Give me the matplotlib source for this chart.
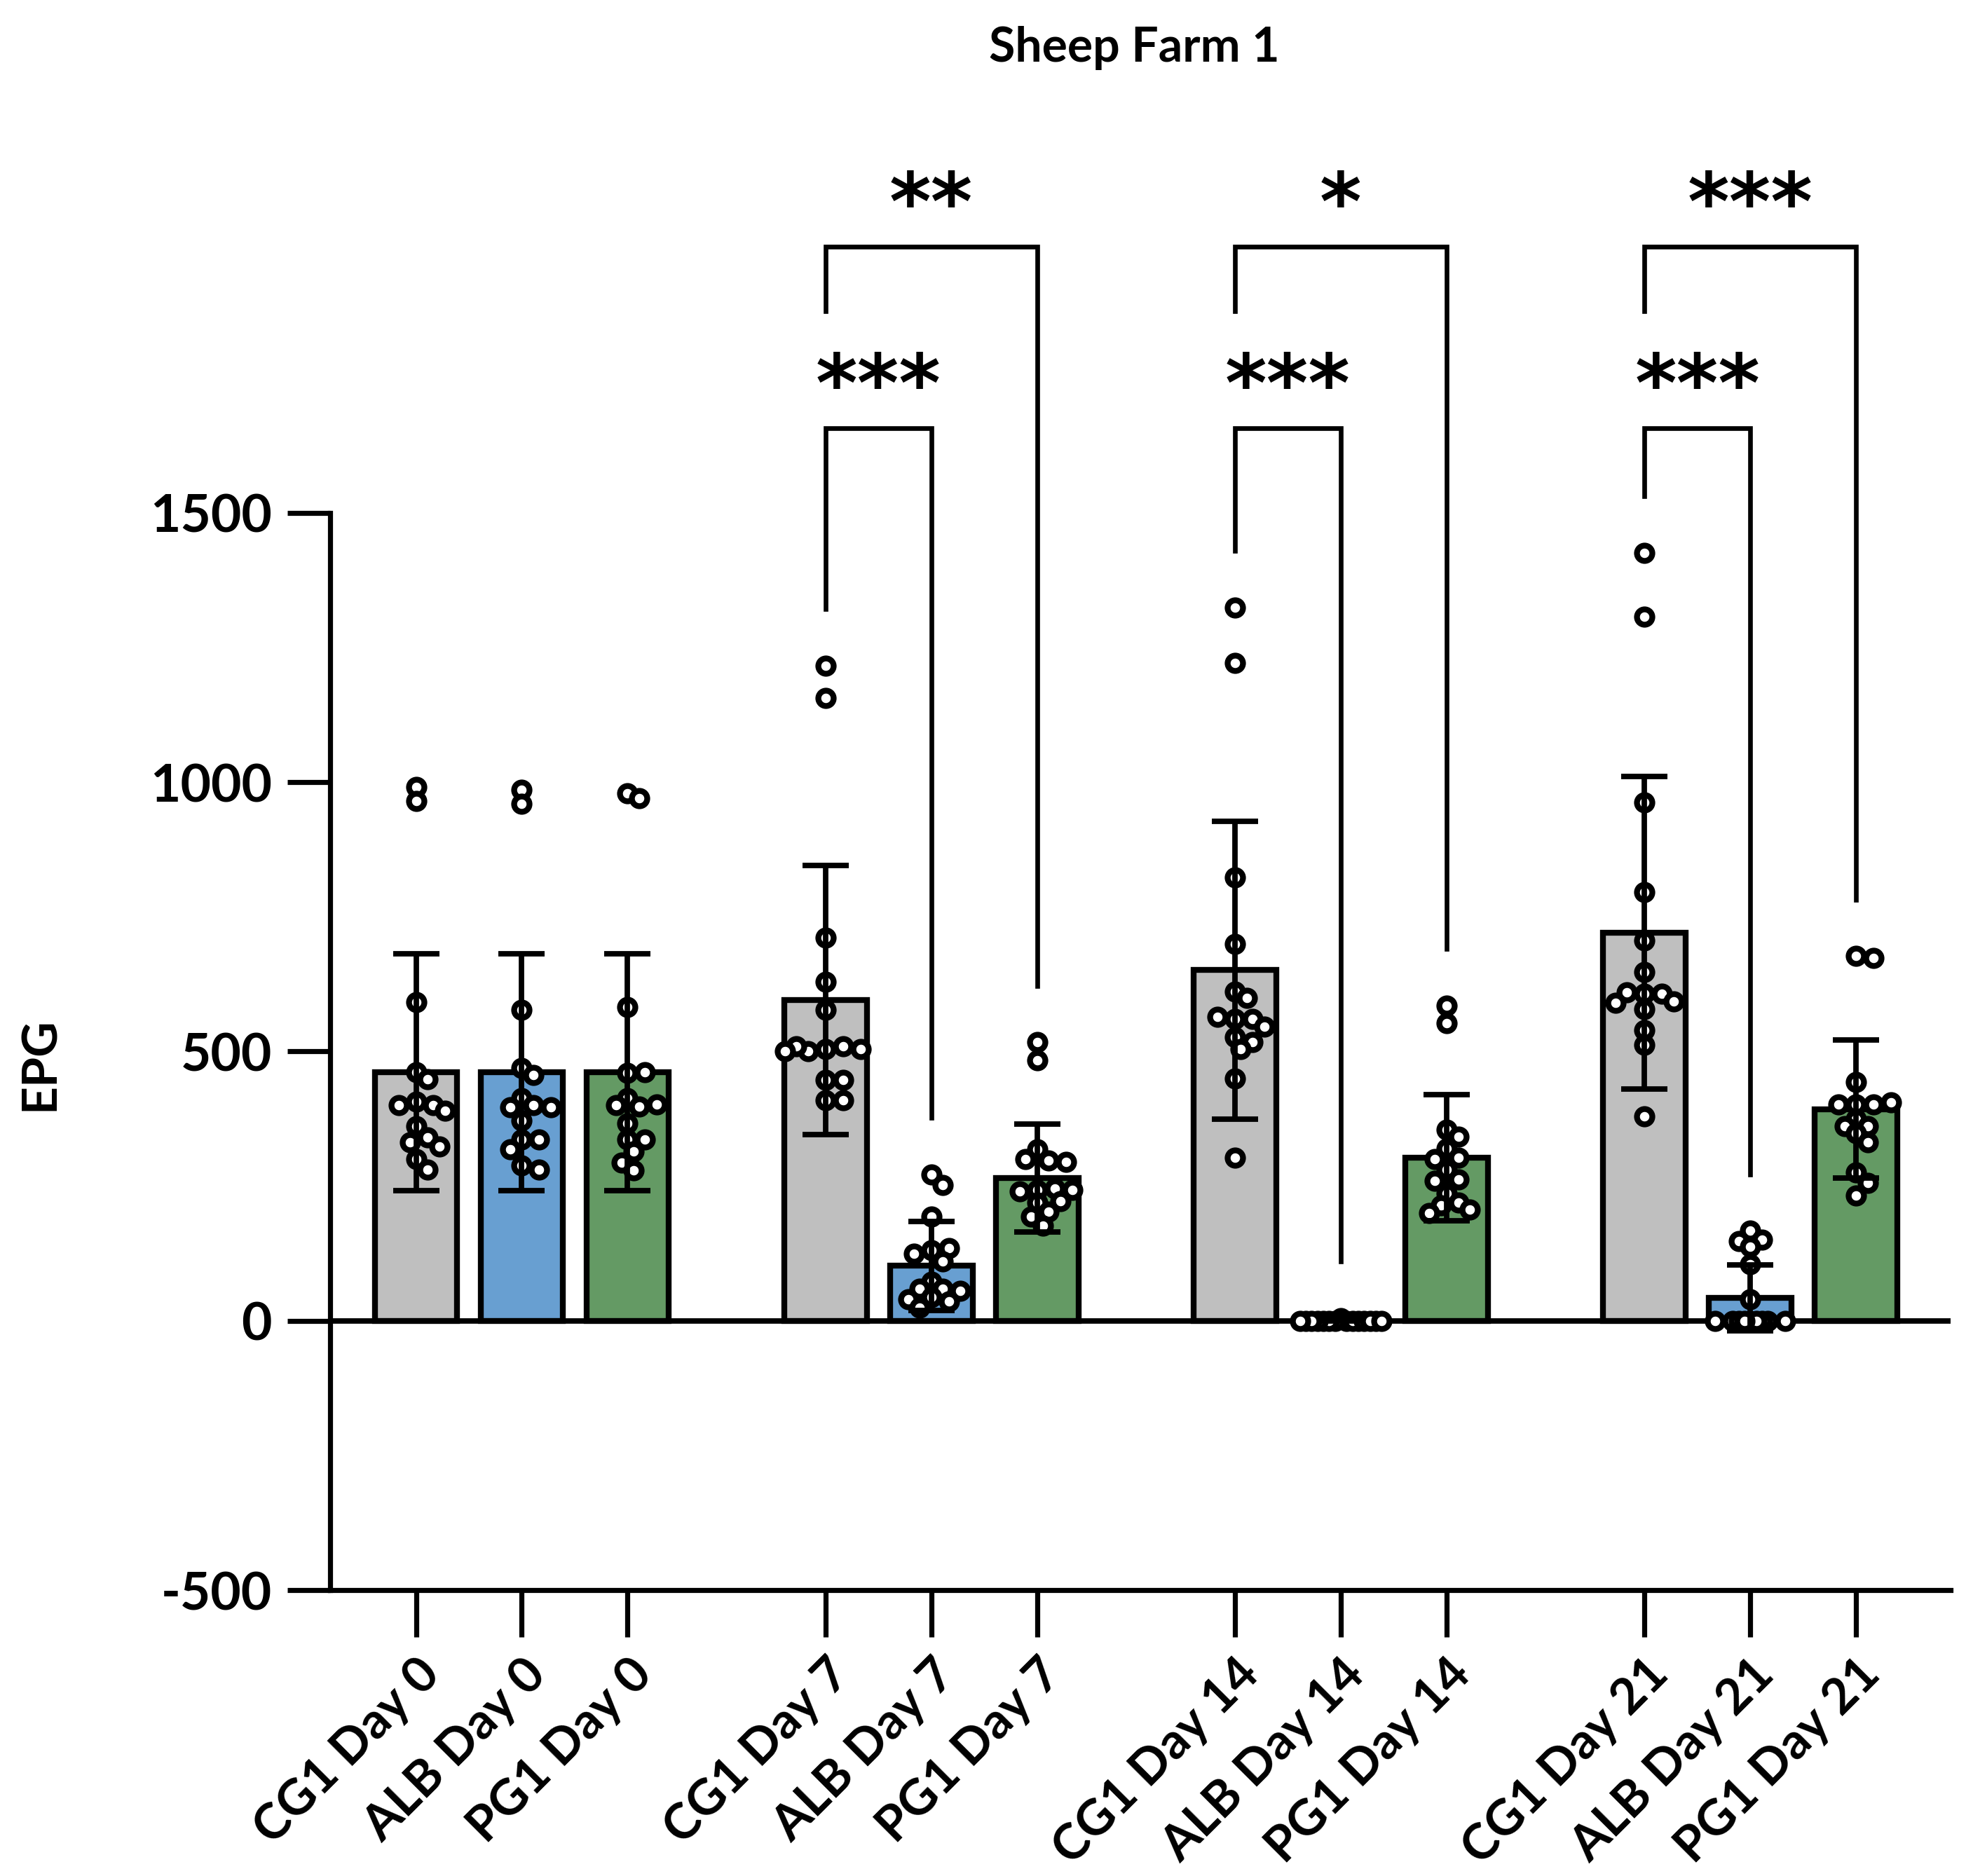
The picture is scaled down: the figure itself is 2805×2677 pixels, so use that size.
import numpy as np
import matplotlib.pyplot as plt
from matplotlib.transforms import ScaledTranslation

plt.rcParams['font.family'] = ['Lato', 'DejaVu Sans']
plt.rcParams['axes.unicode_minus'] = False

# groups, in plotting order
tick_labels = ['CG1 Day 0', 'ALB Day 0', 'PG1 Day 0',
               'CG1 Day 7', 'ALB Day 7', 'PG1 Day 7',
               'CG1 Day 14', 'ALB Day 14', 'PG1 Day 14',
               'CG1 Day 21', 'ALB Day 21', 'PG1 Day 21']
bar_colors = ['#bfbfbf', '#689fd1', '#649a64']

# bar height (mean) and SD
means = [462, 462, 462, 596, 102, 265, 651, 3, 303, 720, 43, 393]
sds = [220, 220, 220, 250, 83, 100, 276, 3, 117, 290, 61, 128]

# individual animals (EPG)
cg1_d0 = [991, 965, 592, 462, 449, 407, 401, 401, 390, 361, 340, 332, 324, 300, 281]
alb_d0 = [986, 960, 577, 470, 457, 414, 401, 396, 396, 372, 337, 337, 319, 289, 281]
pg1_d0 = [980, 970, 582, 460, 462, 414, 398, 400, 402, 367, 337, 337, 314, 294, 279]
cg1_d7 = [1216, 1157, 712, 629, 577, 505, 510, 500, 505, 510, 500, 447, 447, 409, 409]
alb_d7 = [272, 252, 193, 131, 135, 125, 110, 73, 60, 60, 55, 44, 40, 36, 25]
pg1_d7 = [517, 484, 318, 297, 300, 295, 243, 245, 240, 243, 219, 222, 202, 194, 177]
cg1_d14 = [1324, 1221, 823, 700, 611, 600, 560, 560, 565, 546, 527, 518, 505, 450, 303]
alb_d14 = [5, 0, 0, 0, 0, 0, 0, 0, 0, 0, 0, 0, 0, 0, 0]
pg1_d14 = [585, 553, 355, 342, 320, 303, 300, 281, 263, 260, 237, 219, 215, 206, 200]
cg1_d21 = [1426, 1307, 962, 796, 706, 647, 607, 607, 610, 593, 590, 579, 540, 512, 379]
alb_d21 = [167, 150, 148, 138, 105, 40, 0, 0, 0, 0, 0, 0, 0, 0, 0]
pg1_d21 = [677, 673, 443, 402, 402, 402, 405, 375, 361, 361, 348, 332, 275, 256, 233]

points = [cg1_d0, alb_d0, pg1_d0, cg1_d7, alb_d7, pg1_d7,
          cg1_d14, alb_d14, pg1_d14, cg1_d21, alb_d21, pg1_d21]

# (left group, right group, stars)
comparisons = [(3, 4, '***'), (3, 5, '**'),
               (6, 7, '***'), (6, 8, '*'),
               (9, 10, '***'), (9, 11, '***')]

GROUP_STEP = 3.87
x = [g * GROUP_STEP + i for g in range(4) for i in range(3)]


def swarm(vals, step=0.055, dx_min=0.12, dy_min=24, max_off=0.4):
    # simple beeswarm: nearest free slot, else least crowded slot
    cands = [0.0]
    k = 1
    while k * step <= max_off:
        cands += [k * step, -k * step]
        k += 1
    placed = []
    offs = []
    for v in vals:
        best, best_d = 0.0, -1
        for c in cands:
            if placed:
                d = min(((c - px) / dx_min) ** 2 + ((v - pv) / dy_min) ** 2 for px, pv in placed)
            else:
                d = 99
            if d >= 1:
                best = c
                break
            if d > best_d:
                best, best_d = c, d
        placed.append((best, v))
        offs.append(best)
    return np.array(offs)


fig = plt.figure(figsize=(14.025, 13.385), dpi=200)
ax = fig.add_axes([0.168, 0.1524, 0.824, 0.5742])

ax.bar(x, means, width=0.78, color=bar_colors * 4, edgecolor='black',
       linewidth=3.0, zorder=2)
ax.axhline(0, color='black', lw=2.8, zorder=3)

for xi, vals in zip(x, points):
    offs = swarm(vals)
    ax.scatter(xi + offs, vals, s=62, facecolor='white', edgecolor='black',
               linewidths=3.0, zorder=4, clip_on=False)

ax.errorbar(x, means, yerr=sds, fmt='none', ecolor='black', elinewidth=2.8,
            capsize=12, capthick=2.8, zorder=5)

# significance brackets
inner_top, outer_top = 1657, 1994
gap = 105
for a, b, stars in comparisons:
    x1, x2 = x[a], x[b]
    if b - a == 1:
        top = inner_top
        y1 = max(points[a]) + gap
        ty = 1730
    else:
        top = outer_top
        y1 = outer_top - 120
        ty = 2067
    y2 = max(points[b]) + gap
    ax.plot([x1, x1, x2, x2], [y1, top, top, y2], color='black', lw=2.4,
            clip_on=False, zorder=6, solid_joinstyle='miter')
    ax.text((x1 + x2) / 2, ty, stars, ha='center', va='center', fontsize=41,
            fontweight='bold', family='DejaVu Sans', clip_on=False)

ax.set_xlim(-0.81, 14.5)
ax.set_ylim(-500, 1500)
ax.set_yticks([-500, 0, 500, 1000, 1500])
ax.set_yticklabels(['-500', '0', '500', '1000', '1500'], fontsize=27, fontweight='bold')
ax.set_xticks(x)
ax.set_xticklabels(tick_labels, rotation=45, ha='right', va='top',
                   rotation_mode='anchor', fontsize=25.5, fontweight='bold')
shift = ScaledTranslation(-6 / 72, 0, fig.dpi_scale_trans)
for lab in ax.get_xticklabels():
    lab.set_transform(lab.get_transform() + shift)
ax.tick_params(axis='y', length=22, width=2.6, pad=8)
ax.tick_params(axis='x', length=24, width=2.6, pad=7)
for s in ['top', 'right']:
    ax.spines[s].set_visible(False)
for s in ['left', 'bottom']:
    ax.spines[s].set_linewidth(2.6)

fig.text(0.577, 0.9745, 'Sheep Farm 1', ha='center', va='center', fontsize=24.5,
         fontweight='bold')
fig.text(0.0206, 0.433, 'EPG', rotation=90, ha='center', va='center', fontsize=25,
         fontweight='bold')

fig.savefig('out.png', dpi=200)
